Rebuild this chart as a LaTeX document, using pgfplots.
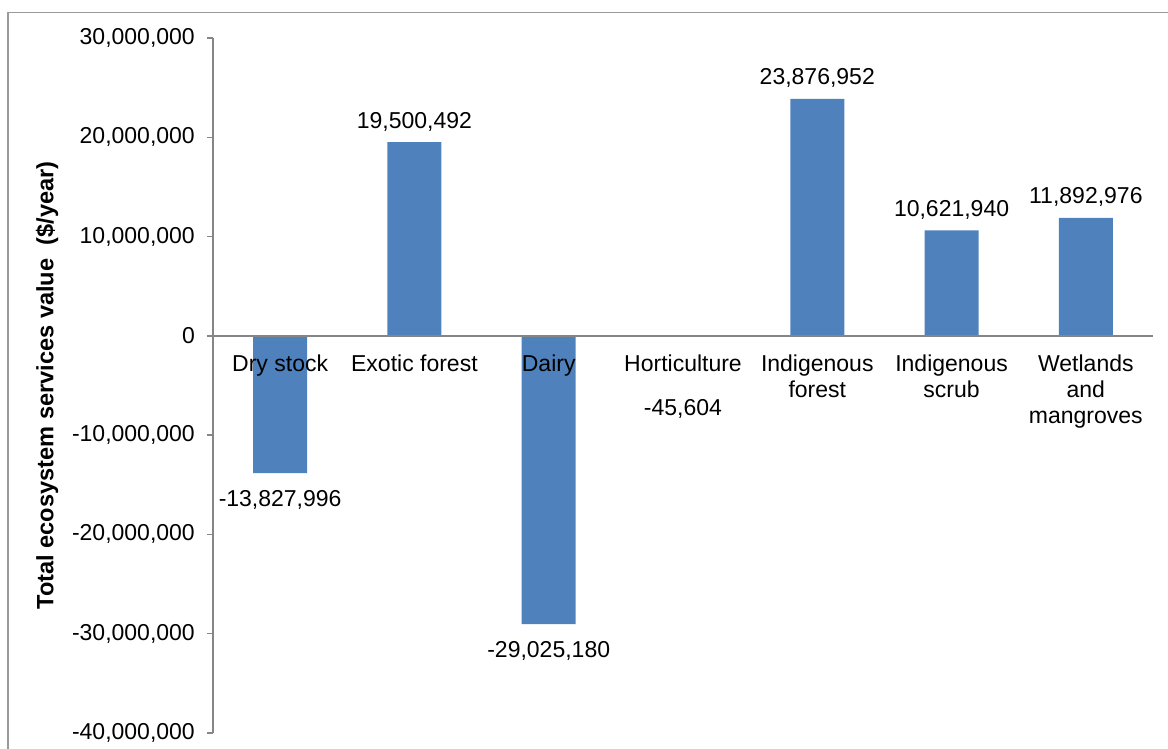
\documentclass[border=0pt]{standalone}
\usepackage{fontspec}
\setmainfont{Liberation Sans}
\usepackage{pgfplots}
\usepackage{pgfplotstable}
\pgfplotsset{compat=1.18}
\definecolor{barblue}{HTML}{4F81BD}
\definecolor{axisgray}{HTML}{868686}
\definecolor{framegray}{HTML}{9A9A9A}
\pgfplotstableread{
x y label
2 19500492 19,500,492
5 23876952 23,876,952
6 10621940 10,621,940
7 11892976 11,892,976
}\pos
\pgfplotstableread{
x y label
1 -13827996 -13,827,996
3 -29025180 -29,025,180
}\neg
\pgfplotstableread{
x y label
4 -45604 -45,604
}\hort
\begin{document}
\fontsize{23}{26}\selectfont
\begin{tikzpicture}
\useasboundingbox (0,0) rectangle (1168pt,749pt);
\draw[framegray, line width=1.5pt] (8pt,0pt) -- (8pt,736.5pt) -- (1168pt,736.5pt);
\begin{axis}[
  at={(213pt,16pt)}, anchor=south west,
  scale only axis, width=940pt, height=695pt,
  xmin=0.5, xmax=7.5, ymin=-40000000, ymax=30000000,
  enlargelimits=false,
  scaled y ticks=false,
  axis on top,
  axis x line*=middle, axis y line*=left,
  hide obscured x ticks=false, hide obscured y ticks=false,
  axis line style={axisgray, line width=1.3pt},
  every tick/.style={axisgray, line width=1.3pt},
  tick align=outside,
  major tick length=6pt,
  ytick={-40000000,-30000000,-20000000,-10000000,0,10000000,20000000,30000000},
  yticklabels={{-40,000,000},{-30,000,000},{-20,000,000},{-10,000,000},{0},{10,000,000},{20,000,000},{30,000,000}},
  yticklabel style={font=\fontsize{23}{26}\selectfont, anchor=east, inner sep=0pt, xshift=-12pt},
  xtick={1,...,7},
  xticklabels={{Dry stock},{Exotic forest},{Dairy},{Horticulture},{Indigenous\\forest},{Indigenous\\scrub},{Wetlands\\and\\mangroves}},
  x tick style={draw=none},
  xticklabel style={font=\fontsize{23}{25.8}\selectfont, align=center, anchor=north, inner sep=0pt, yshift=-13pt},
  extra x ticks={0.5,1.5,2.5,3.5,4.5,5.5,6.5,7.5},
  extra x tick labels={},
  extra x tick style={major tick length=5pt, tick style={axisgray, line width=1.3pt}},
  ylabel={\textbf{Total ecosystem services value\ \ (\$/year)}},
  every axis y label/.style={at={(axis description cs:0,0.5)}, xshift=-166pt, rotate=90, anchor=center, font=\fontsize{23.6}{26}\selectfont},
  clip=false,
]
\addplot[ybar, bar width=54pt, bar shift=0pt, fill=barblue, draw=none,
  nodes near coords, point meta=explicit symbolic,
  every node near coord/.append style={font=\fontsize{23}{26}\selectfont, yshift=3pt}]
  table[x=x, y=y, meta=label] {\pos};
\addplot[ybar, bar width=54pt, bar shift=0pt, fill=barblue, draw=none,
  nodes near coords, point meta=explicit symbolic,
  every node near coord/.append style={font=\fontsize{23}{26}\selectfont, yshift=-44.3pt}]
  table[x=x, y=y, meta=label] {\neg};
\addplot[ybar, bar width=54pt, bar shift=0pt, fill=barblue, draw=none,
  nodes near coords, point meta=explicit symbolic,
  every node near coord/.append style={font=\fontsize{23}{26}\selectfont, yshift=-89.8pt}]
  table[x=x, y=y, meta=label] {\hort};
\end{axis}
\end{tikzpicture}
\end{document}
